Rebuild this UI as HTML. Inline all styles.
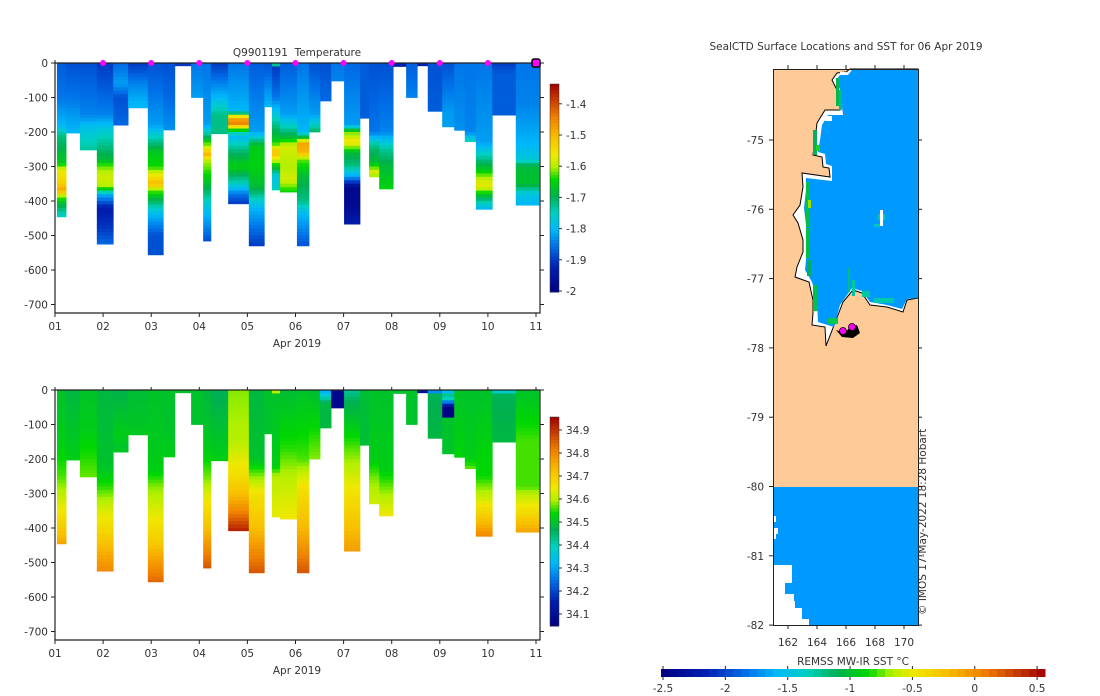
<!DOCTYPE html>
<html><head><meta charset="utf-8">
<style>
html,body{margin:0;padding:0;background:#fff;}
svg{display:block;font-family:"DejaVu Sans","Liberation Sans",sans-serif;}
text{fill:#333;font-size:10.5px;}
</style></head>
<body>
<svg id="fig" width="1100" height="696" viewBox="0 0 1100 696" xmlns="http://www.w3.org/2000/svg">
<g id="top"></g>
<g id="bot"></g>
<g id="map">
  <rect x="773" y="69" width="145" height="556" fill="#fecb98"/>
  <polygon fill="#ffffff" stroke="#000" stroke-width="1"
   points="850,69 918,69 918,298 907,300 903,312 887,307 870,305 862,293 853,290 843,302 826,346 825,327 812,325 813,313 813,300 809,282 795,277 797,267 803,252 803,240 798,223 793,215 800,205 803,187 802,173 830,177 829,168 823,167 822,157 813,155 815,140 817,123 825,110 840,110 837,90 832,80 837,73 846,72"/>
  <polygon fill="#0099ff"
   points="852,70 917,70 917,298 907,299 902,309 887,305 870,302 862,291 852,288 840,305 834,327 818,322 817,300 812,282 805,270 807,250 806,225 804,208 806,190 806,178 832,181 832,166 826,164 825,154 818,152 820,140 822,125 828,115 843,115 840,90 836,80 840,75 848,75"/>
  <g id="mapgreen"></g>
  <rect x="773" y="487" width="145" height="138" fill="#0099ff"/>
  <g fill="#fff">
    <rect x="774" y="516" width="2" height="6"/><rect x="774" y="528" width="4" height="6"/><rect x="774" y="534" width="2" height="5"/>
    <rect x="774" y="565" width="18" height="18"/><rect x="774" y="583" width="11" height="11"/><rect x="774" y="594" width="20" height="7"/>
    <rect x="774" y="601" width="21" height="7"/><rect x="774" y="608" width="28" height="11"/><rect x="774" y="619" width="35" height="6"/>
  </g>
  <g>
    <path d="M836,330 L845,333 L850,327 L857,325 L860,333 L853,338 L842,337 Z" fill="#000" />
    <circle cx="843" cy="331" r="3.5" fill="#ff00ff" stroke="#000" stroke-width="0.8"/>
    <circle cx="852" cy="327" r="3.5" fill="#ff00ff" stroke="#000" stroke-width="0.8"/>
  </g>
  <rect x="773.5" y="69.5" width="145" height="556" fill="none" stroke="#222"/>
  <text x="846" y="50" text-anchor="middle">SealCTD Surface Locations and SST for 06 Apr 2019</text>
  <text transform="translate(926,615) rotate(-90)" font-size="9.5">© IMOS 17-May-2022 18:28 Hobart</text>
  <g id="mapticks"></g>
</g>
<g id="sstbar"></g>
</svg>
<script>
// ---------- data ----------
const profTimes = [1.04,1.23,1.52,1.87,2.21,2.52,2.93,3.25,3.49,3.83,4.08,4.24,4.60,5.03,5.35,5.51,5.68,6.03,6.28,6.51,6.74,7.01,7.34,7.53,7.74,8.03,8.30,8.53,8.75,9.05,9.30,9.52,9.75,10.09,10.58];
const lastTime = 11.06;
const profMaxDepth = [446,203,252,525,180,130,556,194,8,100,516,205,408,530,127,368,374,530,200,110,52,467,160,330,365,10,100,8,140,185,195,228,424,151,412];
const tempDepths = [
[0,100,180,210,290,310,350,370,380,400,440],[0,100,200],[0,150,190,250],[0,150,200,280,300,330,360,380,420,480,525],
[0,60,100,180],[0,60,120],[0,180,220,260,300,330,350,370,400,440,500,556],[0,100,190],[0],[0,100],
[0,180,220,265,285,340,420,516],[0,100,150,205],[0,140,160,175,190,210,250,300,350,380,408],[0,200,240,300,360,420,530],
[0,127],[0,10,100,180,230,260,290,330,368],[0,150,215,240,300,340,374],[0,200,215,235,260,280,330,400,440,530],
[0,150,180,200],[0,110],[0,52],[0,180,200,230,260,300,330,360,420,467],[0,160],[0,200,240,290,320,330],
[0,200,250,300,365],[0],[0,100],[0],[0,140],[0,150,185],[0,195],[0,200,228],
[0,230,280,310,340,360,380,410,424],[0,30,151],[0,120,240,280,300,350,380,412]];
const tempVals = [
[-1.87,-1.85,-1.8,-1.72,-1.66,-1.57,-1.53,-1.48,-1.57,-1.66,-1.75],[-1.88,-1.85,-1.8],[-1.88,-1.84,-1.78,-1.73],[-1.9,-1.84,-1.76,-1.68,-1.62,-1.58,-1.6,-1.8,-1.93,-1.9,-1.86],
[-1.86,-1.82,-1.88,-1.86],[-1.9,-1.84,-1.8],[-1.88,-1.82,-1.74,-1.66,-1.64,-1.55,-1.5,-1.62,-1.7,-1.8,-1.88,-1.88],[-1.88,-1.86,-1.83],[-1.9],[-1.85,-1.82],
[-1.85,-1.82,-1.68,-1.5,-1.6,-1.66,-1.78,-1.88],[-1.9,-1.8,-1.72,-1.72],[-1.85,-1.8,-1.48,-1.45,-1.6,-1.8,-1.72,-1.65,-1.75,-1.85,-1.9],[-1.87,-1.82,-1.66,-1.65,-1.68,-1.8,-1.9],
[-1.88,-1.8],[-1.55,-1.9,-1.85,-1.72,-1.65,-1.5,-1.62,-1.78,-1.75],[-1.87,-1.82,-1.68,-1.58,-1.6,-1.58,-1.65],[-1.85,-1.8,-1.68,-1.48,-1.5,-1.62,-1.68,-1.72,-1.8,-1.88],
[-1.88,-1.82,-1.75,-1.7],[-1.88,-1.86],[-1.85,-1.84],[-1.86,-1.82,-1.62,-1.55,-1.68,-1.72,-1.82,-1.98,-1.97,-1.93],[-1.87,-1.87],[-1.88,-1.85,-1.72,-1.67,-1.56,-1.64],
[-1.88,-1.84,-1.73,-1.68,-1.65],[-1.92],[-1.87,-1.84],[-1.92],[-1.88,-1.87],[-1.88,-1.82,-1.82],[-1.85,-1.83],[-1.85,-1.84,-1.74],
[-1.85,-1.82,-1.72,-1.66,-1.58,-1.57,-1.66,-1.76,-1.8],[-1.9,-1.87,-1.87],[-1.85,-1.84,-1.8,-1.77,-1.68,-1.67,-1.78,-1.8]];
const salDepths = [
[0,150,250,330,420,446],[0,200],[0,120,200,252],[0,220,280,340,430,525],
[0,130,170,180],[0,130],[0,230,280,350,440,556],[0,100,194],[0],[0,100],
[0,180,260,300,400,516],[0,200],[0,150,250,300,350,408],[0,200,250,300,400,530],
[0,127],[0,10,220,250,368],[0,170,250,374],[0,200,280,400,530],
[0,200],[0,10,40,110],[0,52],[0,30,150,220,300,400,467],[0,160],[0,200,260,330],
[0,230,270,365],[0],[0,100],[0,8],[0,10,140],[0,20,50,75,80,185],[0,195],[0,200,228],
[0,250,300,380,424],[0,10,151],[0,150,280,300,360,412]];
const salVals = [
[34.50,34.52,34.56,34.63,34.72,34.76],[34.48,34.52],[34.50,34.52,34.55,34.57],[34.48,34.50,34.55,34.62,34.70,34.80],
[34.47,34.52,34.50,34.52],[34.49,34.51],[34.50,34.52,34.58,34.63,34.70,34.84],[34.50,34.50,34.52],[34.50],[34.50,34.50],
[34.48,34.52,34.58,34.63,34.72,34.86],[34.46,34.52],[34.58,34.60,34.67,34.72,34.80,34.92],[34.48,34.50,34.58,34.66,34.72,34.86],
[34.50,34.50],[34.70,34.50,34.52,34.60,34.64],[34.49,34.55,34.60,34.65],[34.50,34.56,34.66,34.73,34.86],
[34.49,34.58],[34.28,34.35,34.48,34.48],[34.08,34.08],[34.42,34.46,34.55,34.60,34.66,34.72,34.77],[34.49,34.49],[34.50,34.52,34.58,34.62],
[34.50,34.52,34.56,34.65],[34.50],[34.50,34.50],[34.10,34.10],[34.10,34.46,34.48],[34.30,34.46,34.06,34.06,34.50,34.50],[34.50,34.53],[34.50,34.52,34.57],
[34.50,34.54,34.60,34.72,34.80],[34.30,34.46,34.48],[34.50,34.56,34.56,34.60,34.68,34.76]];
const dayTicks = ['01','02','03','04','05','06','07','08','09','10','11'];
const depthTicks = [0,-100,-200,-300,-400,-500,-600,-700];
const tempBarTicks = [-1.4,-1.5,-1.6,-1.7,-1.8,-1.9,-2];
const salBarTicks = [34.9,34.8,34.7,34.6,34.5,34.4,34.3,34.2,34.1];
const sstTicks = [-2.5,-2,-1.5,-1,-0.5,0,0.5];
const surfaceDays = [2,3,4,5,6,7,8,9,10];
const latTicks = [-75,-76,-77,-78,-79,-80,-81,-82];
const lonTicks = [162,164,166,168,170];

// ---------- colormap ----------
const stops=[[0,[0,0,128]],[0.12,[0,32,176]],[0.22,[0,112,232]],[0.3,[0,184,248]],[0.38,[0,208,192]],[0.46,[0,176,80]],[0.54,[0,216,0]],[0.6,[176,240,0]],[0.66,[240,232,0]],[0.74,[248,192,0]],[0.84,[240,128,0]],[0.92,[200,64,0]],[1,[160,0,0]]];
function cmap(f){f=Math.max(0,Math.min(1,f));for(let i=1;i<stops.length;i++){if(f<=stops[i][0]){const a=stops[i-1],b=stops[i];const t=(f-a[0])/(b[0]-a[0]);const c=a[1].map((v,k)=>Math.round(v+(b[1][k]-v)*t));return `rgb(${c[0]},${c[1]},${c[2]})`;}}return 'rgb(160,0,0)';}
function interp(ds,vs,d){if(d<=ds[0])return vs[0];for(let i=1;i<ds.length;i++){if(d<=ds[i]){const t=(d-ds[i-1])/(ds[i]-ds[i-1]);return vs[i-1]+(vs[i]-vs[i-1])*t;}}return vs[vs.length-1];}
const NS='http://www.w3.org/2000/svg';
function el(tag,attrs,parent){const e=document.createElementNS(NS,tag);for(const k in attrs)e.setAttribute(k,attrs[k]);parent.appendChild(e);return e;}

const X0=55,X1=540,PXDAY=48.1;
function xS(day){return X0+(day-1)*PXDAY;}

function panel(g,top,bottom,ds,vs,vmin,vmax,barTop,barBot,barTicks,barTickPos,title,markers){
  const pxPerM=0.345;
  const yS=d=>top+d*pxPerM;
  for(let i=0;i<profTimes.length;i++){
    const xa=xS(profTimes[i]), xb=xS(i+1<profTimes.length?profTimes[i+1]:lastTime);
    const md=profMaxDepth[i];
    const step=Math.max(4,Math.min(10,md));
    for(let d=0; d<md; d+=step){
      const v=interp(ds[i],vs[i],d+step/2);
      const r=el('rect',{x:xa.toFixed(2),y:yS(d).toFixed(2),width:(xb-xa+0.4).toFixed(2),height:(Math.min(step,md-d)*pxPerM+0.4).toFixed(2),fill:cmap((v-vmin)/(vmax-vmin))},g);
      
      
    }
  }
  const fr=el('path',{d:`M${X0},${top} V${bottom} H${X1} V${top} H${X0}`,fill:'none',stroke:'#222','stroke-width':1.2},g);
  
  
  depthTicks.forEach(t=>{
    const y=yS(-t);
    el('line',{x1:X0-4,x2:X0,y1:y,y2:y,stroke:'#222'},g);
    el('line',{x1:X1,x2:X1+4,y1:y,y2:y,stroke:'#222'},g);
    const tx=el('text',{x:X0-7,y:y+4,'text-anchor':'end'},g);tx.textContent=t;
    
    
  });
  dayTicks.forEach((t,i)=>{
    const x=xS(i+1);
    el('line',{x1:x,x2:x,y1:bottom,y2:bottom+4,stroke:'#222'},g);
    el('line',{x1:x,x2:x,y1:top,y2:top-3,stroke:'#222'},g);
    const tx=el('text',{x:x,y:bottom+17,'text-anchor':'middle'},g);tx.textContent=t;
    
    
  });
  const xl=el('text',{x:297,y:bottom+34,'text-anchor':'middle'},g);xl.textContent='Apr 2019';
  
  
  if(title){const tt=el('text',{x:297,y:top-7,'text-anchor':'middle'},g);tt.textContent=title;
    
    }
  if(markers){
    surfaceDays.forEach(d=>{const c=el('circle',{cx:xS(d),cy:top,r:3,fill:'#ff00ff'},g);
      
      });
    const c=el('rect',{x:xS(11)-4,y:top-4,width:8,height:8,rx:2,fill:'#ff00ff',stroke:'#000','stroke-width':1.5},g);
    
    
  }
  const n=64,bx=550,bw=9;
  for(let k=0;k<n;k++){
    const y0=barTop+(barBot-barTop)*k/n;
    el('rect',{x:bx,y:y0,width:bw,height:(barBot-barTop)/n+0.5,fill:cmap(1-(k+0.5)/n)},g);
  }
  const cbf=el('rect',{x:bx,y:barTop,width:bw,height:barBot-barTop,fill:'none',stroke:'#333','stroke-width':0.5},g);
  
  
  barTicks.forEach(t=>{
    const y=barTickPos(t);
    el('line',{x1:bx+bw,x2:bx+bw+3,y1:y,y2:y,stroke:'#333'},g);
    const tx=el('text',{x:566,y:y+4},g);tx.textContent=String(t);
    
    
  });
}
panel(document.getElementById('top'),63,313,tempDepths,tempVals,-2.0,-1.336,84,292,tempBarTicks,t=>291-(t+2)*312,'Q9901191\u00a0\u00a0Temperature',true);
panel(document.getElementById('bot'),390,640,salDepths,salVals,34.048,34.957,417,626,salBarTicks,t=>614-(t-34.1)*230,null,false);

const mt=document.getElementById('mapticks');
latTicks.forEach(t=>{const y=140+(-75-t)*69.3;
  el('line',{x1:773,x2:769,y1:y,y2:y,stroke:'#222'},mt);el('line',{x1:918,x2:922,y1:y,y2:y,stroke:'#222'},mt);
  const tx=el('text',{x:764,y:y+4,'text-anchor':'end'},mt);tx.textContent=t;
  
  });
lonTicks.forEach(t=>{const x=788+(t-162)*14.5;
  el('line',{x1:x,x2:x,y1:625,y2:629,stroke:'#222'},mt);el('line',{x1:x,x2:x,y1:69,y2:65,stroke:'#222'},mt);
  const tx=el('text',{x:x,y:646,'text-anchor':'middle'},mt);tx.textContent=t;
  
  });
const mg=document.getElementById('mapgreen');
[[836,78,3,28,'#00b850'],[839,90,3,20,'#00c080'],[813,130,4,25,'#00b060'],[816,145,4,6,'#20d020'],[806,182,4,45,'#00c050'],[808,200,3,8,'#a0e000'],[806,228,3,30,'#00c040'],[807,260,4,16,'#00b060'],[813,285,5,26,'#00c050'],[828,318,10,6,'#00c850'],[848,268,2,24,'#00c080'],[852,280,3,16,'#00c8a0'],[862,291,8,6,'#00c8a0'],[874,298,20,5,'#00c8b0'],[878,214,7,6,'#00c8c0'],[880,210,3,16,'#ffffff'],[874,224,6,3,'#00c8c0'],[840,72,6,3,'#ffffff'],[825,116,7,5,'#ffffff']].forEach(r=>{
  const e=el('rect',{x:r[0],y:r[1],width:r[2],height:r[3],fill:r[4]},mg);
  
  });

const sb=document.getElementById('sstbar');
const sx0=661,sx1=1045;
for(let k=0;k<48;k++){el('rect',{x:sx0+(sx1-sx0)*k/48,y:669,width:(sx1-sx0)/48+0.5,height:8,fill:cmap((k+0.5)/48)},sb);}
const sstX=t=>663+(t+2.5)*124.7;
sstTicks.forEach(t=>{const x=sstX(t);
  el('line',{x1:x,x2:x,y1:666,y2:669,stroke:'#222'},sb);el('line',{x1:x,x2:x,y1:677,y2:680,stroke:'#222'},sb);
  const tx=el('text',{x:x,y:692,'text-anchor':'middle'},sb);tx.textContent=t;
  
  });
const stl=el('text',{x:853,y:665,'text-anchor':'middle'},sb);stl.textContent='REMSS MW-IR SST °C';


</script>
</body></html>
